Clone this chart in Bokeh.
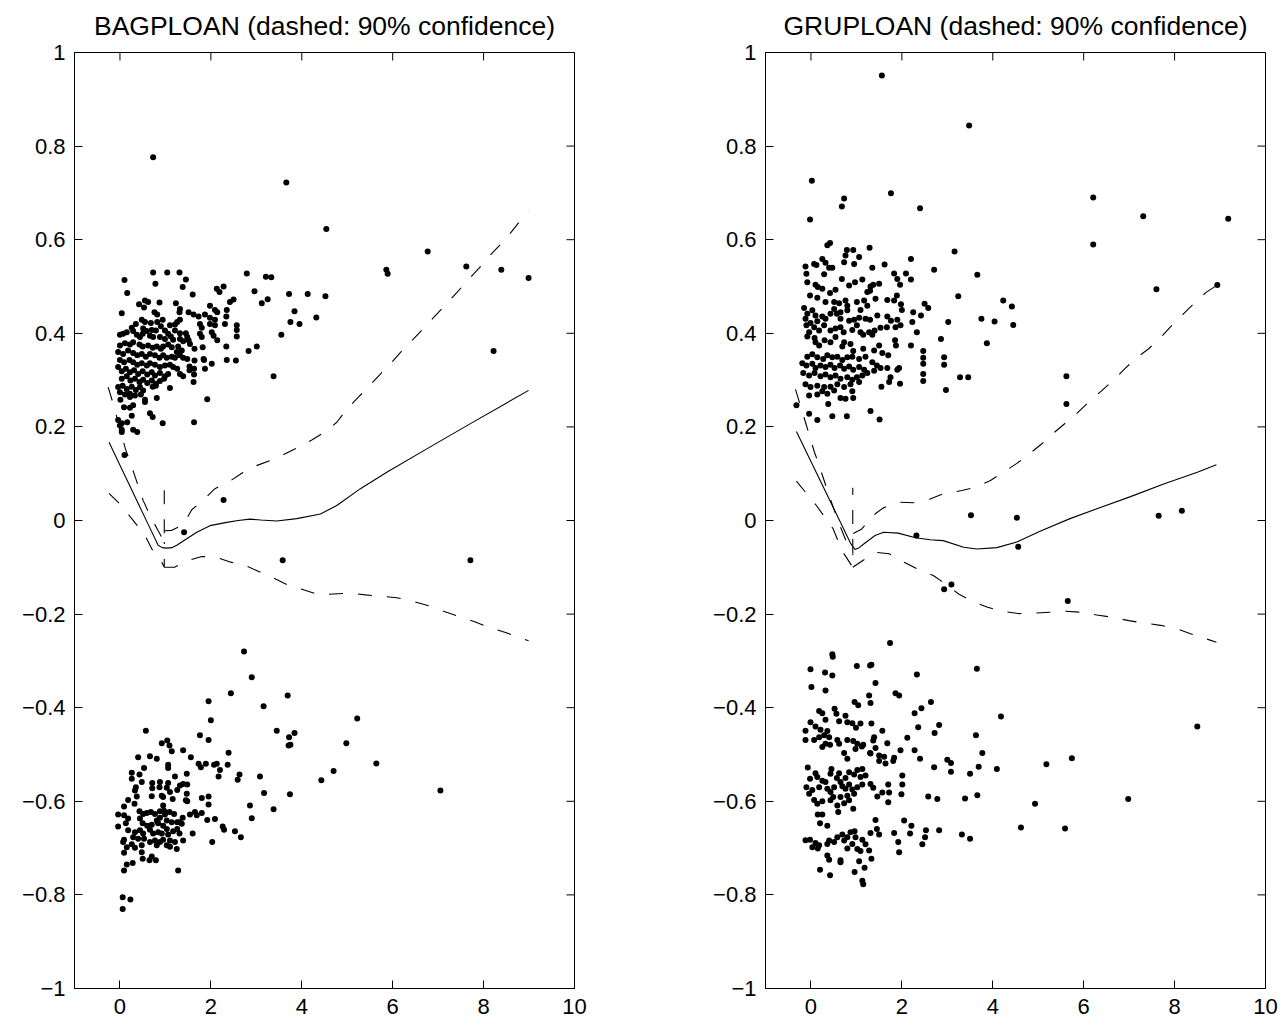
import math
import numpy as np
from bokeh.plotting import figure
from bokeh.models import FixedTicker
from bokeh.layouts import row
from bokeh.embed import file_html
from bokeh.resources import INLINE

NAN = float("nan")

titles = ["BAGPLOAN (dashed: 90% confidence)", "GRUPLOAN (dashed: 90% confidence)"]
xticks = [0, 2, 4, 6, 8, 10]
xtick_labels = ["0", "2", "4", "6", "8", "10"]
yticks = [-1, -0.8, -0.6, -0.4, -0.2, 0, 0.2, 0.4, 0.6, 0.8, 1]
ytick_labels = ["\u22121", "\u22120.8", "\u22120.6", "\u22120.4", "\u22120.2", "0",
                "0.2", "0.4", "0.6", "0.8", "1"]

# ---------------- BAGPLOAN ----------------
bag_upper_pts = [
    (0.73,0.53),(1.04,0.53),(1.31,0.53),(2.79,0.528),(3.21,0.521),(3.33,0.52),(0.10,0.514),(1.45,0.515),(0.78,0.506),
    (2.13,0.495),(2.19,0.488),(2.28,0.5),(1.38,0.499),(0.16,0.486),(1.6,0.483),(2.96,0.49),(3.72,0.484),(4.13,0.484),(4.52,0.479),
    (0.55,0.47),(0.62,0.467),(0.42,0.462),(0.87,0.466),(1.23,0.464),(2.5,0.472),(2.42,0.467),(3.25,0.473),(3.12,0.464),(0.53,0.455),
    (1.32,0.452),(1.31,0.445),(1.98,0.459),(2.09,0.45),(2.14,0.445),(2.35,0.45),(0.04,0.443),(0.76,0.445),(0.82,0.44),(1.51,0.445),
    (1.62,0.44),(1.73,0.436),(1.87,0.44),(1.98,0.433),(2.09,0.429),(2.34,0.436),(3.84,0.447),(4.32,0.434),
    (0.48,0.429),(0.55,0.424),(0.68,0.422),(0.94,0.429),(1.32,0.429),(1.26,0.424),(1.21,0.419),(0.35,0.42),(0.82,0.424),(0.9,0.415),
    (1.1,0.417),(1.76,0.42),(1.8,0.412),(1.98,0.42),(2.09,0.417),(2.31,0.42),(2.57,0.417),(2.57,0.407),(2.57,0.393),(3.75,0.424),(3.95,0.42),
    (0.26,0.412),(0.51,0.41),(0.59,0.405),(0.7,0.407),(0.79,0.406),(0.99,0.406),(1.06,0.399),(1.21,0.406),(1.32,0.4),(1.45,0.4),
    (1.48,0.392),(1.76,0.399),(2.02,0.402),(2.06,0.395),(0.0,0.397),(0.07,0.399),(0.15,0.402),(0.29,0.405),(0.37,0.397),(0.44,0.392),
    (0.5,0.399),(0.66,0.395),(0.73,0.392),(0.88,0.392),(0.99,0.388),(1.12,0.393),(1.17,0.386),(1.32,0.388),(1.39,0.383),(1.51,0.385),
    (1.54,0.377),(1.8,0.392),(2.14,0.385),(3.55,0.397),
    (0.0,0.374),(0.11,0.379),(0.22,0.376),(0.29,0.381),(0.43,0.376),(0.5,0.372),(0.62,0.374),(0.72,0.369),(0.81,0.372),(0.9,0.367),
    (0.95,0.372),(1.06,0.376),(1.14,0.37),(1.28,0.372),(1.36,0.363),(1.25,0.36),(1.64,0.367),(1.82,0.37),(2.34,0.372),(2.83,0.362),(3.01,0.372),
    (-0.04,0.36),(0.07,0.356),(0.18,0.363),(0.29,0.358),(0.38,0.353),(0.48,0.356),(0.57,0.35),(0.66,0.356),(0.77,0.353),(0.87,0.348),
    (0.95,0.353),(1.03,0.348),(1.14,0.35),(1.21,0.348),(1.32,0.353),(1.39,0.348),(1.48,0.345),(1.64,0.342),(1.84,0.345),(2.35,0.343),(2.55,0.342),
    (0.0,0.343),(0.09,0.338),(0.21,0.343),(0.29,0.338),(0.38,0.333),(0.48,0.336),(0.59,0.331),(0.66,0.336),(0.77,0.333),(0.88,0.328),
    (0.99,0.331),(1.1,0.333),(1.17,0.328),(1.26,0.324),(1.53,0.329),(1.63,0.324),(1.53,0.321),(1.87,0.324),(2.02,0.335),(1.85,0.343),
    (-0.04,0.328),(0.04,0.319),(0.13,0.324),(0.22,0.317),(0.31,0.321),(0.4,0.313),(0.5,0.319),(0.6,0.312),(0.7,0.317),(0.77,0.31),
    (0.88,0.315),(0.99,0.308),(1.06,0.313),(1.32,0.313),(1.39,0.308),(1.63,0.312),(3.38,0.308),
    (0.04,0.303),(0.15,0.308),(0.23,0.299),(0.33,0.303),(0.43,0.296),(0.51,0.301),(0.6,0.294),(0.7,0.299),(0.79,0.292),(0.88,0.298),
    (0.97,0.303),(1.62,0.296),
    (-0.04,0.285),(0.06,0.288),(0.15,0.281),(0.26,0.286),(0.35,0.279),(0.44,0.285),(0.51,0.278),(0.72,0.286),(0.79,0.288),(1.1,0.283),
    (0.0,0.274),(0.11,0.269),(0.22,0.271),(0.33,0.267),(0.46,0.269),(0.01,0.258),(0.22,0.264),(0.55,0.258),(0.81,0.262),(1.92,0.259),(0.55,0.253),
    (0.09,0.242),(0.22,0.241),(0.29,0.246),(0.66,0.229),(0.72,0.221),(0.26,0.224),(-0.04,0.215),(0.04,0.208),(0.16,0.21),(0.04,0.194),
    (0.29,0.194),(0.38,0.189),(0.94,0.208),(1.63,0.21),(0.0,0.203),(0.04,0.189),(0.1,0.14),
    (0.73,0.776),(3.66,0.722),(4.54,0.623),(6.77,0.575),(5.86,0.536),(5.89,0.527),(7.62,0.543),(8.39,0.536),(8.99,0.518),(8.22,0.362),
    (2.28,0.044),(1.41,-0.025),(3.58,-0.085),(7.71,-0.085),
]

bag_lower_pts = [
    (2.73,-0.28),(2.9,-0.335),(2.44,-0.369),(3.69,-0.374),(1.95,-0.386),(3.16,-0.397),(2.0,-0.427),(0.57,-0.449),(3.45,-0.449),
    (3.84,-0.454),(3.72,-0.463),(3.75,-0.479),(3.71,-0.481),(1.76,-0.459),(1.95,-0.469),
    (0.92,-0.476),(1.04,-0.47),(1.09,-0.481),(1.14,-0.493),(1.39,-0.491),(1.56,-0.506),(2.39,-0.496),(2.37,-0.522),(0.4,-0.506),
    (0.66,-0.504),(0.81,-0.509),(0.53,-0.529),(1.06,-0.522),(1.06,-0.529),
    (1.73,-0.52),(1.89,-0.52),(1.78,-0.527),(2.07,-0.522),(2.13,-0.52),(2.2,-0.533),(2.17,-0.547),(0.26,-0.539),(0.43,-0.543),
    (0.26,-0.552),(1.47,-0.541),(1.21,-0.547),(1.32,-0.566),(1.39,-0.563),(1.48,-0.564),(2.63,-0.543),(2.59,-0.554),(3.08,-0.547),
    (0.48,-0.559),(0.35,-0.57),(0.33,-0.577),(0.71,-0.561),(0.71,-0.572),(0.88,-0.559),(0.87,-0.57),(1.06,-0.561),(1.03,-0.571),
    (0.92,-0.588),(0.95,-0.591),
    (0.7,-0.589),(1.1,-0.58),(1.16,-0.595),(1.26,-0.576),(1.47,-0.584),(1.48,-0.6),(1.45,-0.598),(1.8,-0.593),(1.95,-0.59),(1.95,-0.607),
    (3.17,-0.582),(3.74,-0.585),
    (0.18,-0.597),(0.37,-0.59),(0.32,-0.605),(0.09,-0.611),(0.43,-0.621),(0.51,-0.627),(0.59,-0.625),(0.68,-0.623),(0.77,-0.627),
    (0.88,-0.621),(0.95,-0.609),(0.97,-0.62),(0.99,-0.628),
    (1.09,-0.623),(1.19,-0.627),(1.31,-0.645),(1.38,-0.635),(1.54,-0.628),(1.65,-0.623),(1.69,-0.63),(1.8,-0.625),(2.86,-0.609),
    (3.38,-0.617),(2.9,-0.636),
    (-0.04,-0.628),(0.09,-0.63),(0.18,-0.637),(-0.04,-0.654),(0.13,-0.647),(0.44,-0.637),(0.5,-0.647),(0.6,-0.652),(0.7,-0.65),
    (0.81,-0.641),(0.88,-0.635),
    (0.84,-0.647),(0.95,-0.652),(1.03,-0.641),(1.14,-0.645),(1.26,-0.645),(1.36,-0.648),(1.92,-0.64),(2.09,-0.638),(2.03,-0.687),
    (2.26,-0.654),(2.29,-0.661),(2.53,-0.664),(2.66,-0.677),
    (0.18,-0.662),(0.33,-0.666),(0.44,-0.662),(0.51,-0.669),(0.29,-0.677),(0.4,-0.68),(0.53,-0.68),
    (0.66,-0.661),(0.73,-0.669),(0.84,-0.666),(0.92,-0.669),(1.03,-0.659),(1.06,-0.671),(1.17,-0.664),(1.26,-0.659),(1.31,-0.669),
    (1.39,-0.684),(1.6,-0.669),
    (0.09,-0.682),(0.07,-0.687),(0.26,-0.692),(0.15,-0.698),(0.33,-0.699),(0.48,-0.694),(0.66,-0.687),(0.77,-0.684),(0.88,-0.687),
    (0.95,-0.682),(1.1,-0.684),(1.21,-0.687),(1.1,-0.697),(1.25,-0.702),(1.03,-0.694),(0.81,-0.694),
    (0.09,-0.71),(0.48,-0.709),(0.7,-0.718),(0.5,-0.723),(0.65,-0.726),(0.79,-0.726),(0.28,-0.732),(0.15,-0.735),(0.09,-0.748),(1.28,-0.748),
    (0.06,-0.805),(0.23,-0.81),(0.06,-0.83),
    (4.43,-0.555),(4.7,-0.535),(4.98,-0.476),(5.22,-0.423),(5.64,-0.519),(7.05,-0.577),
]

bag_fit_x = [-0.24, 0.0, 0.3, 0.6, 0.84, 0.93, 1.03, 1.14, 1.25, 1.47, 1.69, 1.98, 2.35, 2.6, 2.86, 3.1, 3.45,
             3.89, 4.41, 4.77, 5.29, 5.87, 6.75, 7.71, 8.99]
bag_fit_y = [0.167, 0.118, 0.057, -0.004, -0.053, -0.058, -0.059, -0.058, -0.053, -0.039, -0.025, -0.011, -0.004,
             0.0, 0.003, 0.001, -0.001, 0.004, 0.014, 0.032, 0.068, 0.103, 0.153, 0.207, 0.278]

bag_hi_x = [-0.26, -0.16, 0.12, 0.23, 0.35, 0.51, 0.66, 0.82, 0.975, 0.975, NAN,
            0.985, 1.14, 1.39, 1.58, 1.84, 2.09, 2.39, 2.68, 2.97, 3.3, 3.6, 3.93, 4.22, 4.54, 4.77,
            5.0, 5.25, 5.49, 5.73, 5.98, 6.2, 6.46, 6.7, 6.94, 7.18, 7.42, 7.65, 7.89, 8.11, 8.37, 8.59, 8.81, 8.99]
bag_hi_y = [0.285, 0.253, 0.153, 0.123, 0.089, 0.043, 0.011, -0.018, -0.046, 0.068, NAN,
            -0.022, -0.021, -0.009, 0.023, 0.044, 0.068, 0.082, 0.101, 0.116, 0.128, 0.141, 0.157, 0.172, 0.191, 0.21,
            0.239, 0.264, 0.288, 0.313, 0.338, 0.362, 0.388, 0.413, 0.438, 0.463, 0.488, 0.513, 0.538, 0.563, 0.59, 0.614, 0.641, 0.661]

bag_lo_x = [-0.24, -0.01, 0.22, 0.55, 0.72, 0.92, 0.975, 0.975, NAN,
            0.975, 1.2, 1.45, 1.8, 2.09, 2.44, 2.75, 3.08, 3.38, 3.71, 4.0, 4.39, 4.7, 5.07, 5.4, 5.78, 6.09,
            6.46, 6.79, 7.12, 7.45, 7.82, 8.11, 8.5, 8.99]
bag_lo_y = [0.058, 0.036, 0.009, -0.032, -0.064, -0.089, -0.1, -0.046, NAN,
            -0.1, -0.1, -0.087, -0.077, -0.078, -0.089, -0.096, -0.11, -0.123, -0.139, -0.147, -0.159, -0.157,
            -0.155, -0.159, -0.162, -0.165, -0.173, -0.182, -0.194, -0.205, -0.217, -0.228, -0.24, -0.257]

# ---------------- GRUPLOAN ----------------
gru_upper_pts = [
    (0.36,0.588),(0.42,0.593),(0.79,0.578),(0.93,0.578),(0.76,0.566),(1.06,0.563),(0.73,0.552),(0.95,0.548),(1.29,0.583),(2.2,0.559),
    (3.16,0.575),(3.66,0.525),
    (-0.12,0.543),(0.07,0.548),(0.12,0.546),(0.25,0.559),(0.32,0.551),(0.4,0.54),(0.47,0.54),(-0.1,0.527),(0.29,0.526),(1.35,0.54),
    (1.62,0.547),(1.83,0.528),(1.9,0.516),(2.09,0.528),(2.2,0.515),(2.71,0.536),
    (-0.08,0.509),(0.1,0.504),(0.15,0.499),(0.25,0.495),(0.42,0.486),(0.54,0.493),(0.68,0.516),(0.84,0.502),(0.97,0.509),(1.13,0.515),
    (1.31,0.5),(1.37,0.504),(1.5,0.506),(1.24,0.488),(1.3,0.491),
    (1.96,0.504),(1.89,0.481),(1.68,0.471),(1.83,0.47),(1.42,0.474),
    (-0.02,0.481),(0.14,0.476),(0.32,0.467),(0.51,0.467),(0.62,0.464),(0.76,0.47),(0.8,0.459),(1.01,0.467),(1.17,0.47),(1.24,0.459),
    (1.09,0.45),(0.8,0.449),(0.65,0.445),(0.51,0.452),
    (1.98,0.462),(2.0,0.45),(2.25,0.445),(2.42,0.438),(2.5,0.463),(2.58,0.454),(3.02,0.424),(3.24,0.479),(3.75,0.431),(4.04,0.425),
    (4.23,0.47),(4.42,0.457),(4.45,0.418),
    (-0.15,0.454),(-0.08,0.442),(0.03,0.449),(-0.12,0.431),(-0.01,0.422),(0.14,0.426),(0.1,0.438),(0.25,0.436),(0.32,0.431),(0.43,0.442),
    (0.57,0.442),(0.65,0.431),
    (0.84,0.427),(0.95,0.429),(1.06,0.433),(1.2,0.431),(1.3,0.429),(1.46,0.438),(1.68,0.436),(1.76,0.427),(1.9,0.429),(1.97,0.417),
    (1.86,0.413),(1.67,0.413),(1.53,0.412),(1.4,0.406),(1.28,0.402),
    (2.23,0.424),(2.33,0.402),(2.86,0.388),(2.2,0.374),(3.87,0.379),(-0.1,0.417),(0.07,0.413),(-0.04,0.402),(0.18,0.406),(-0.08,0.393),
    (0.08,0.39),(0.29,0.417),(0.43,0.406),(0.54,0.41),(0.65,0.413),(0.72,0.402),(0.91,0.407),(1.09,0.402),(1.15,0.397),(1.35,0.397),(1.01,0.417),
    (0.1,0.381),(0.18,0.374),(0.3,0.385),(0.43,0.381),(0.54,0.392),(0.73,0.381),(0.69,0.372),(0.87,0.377),(0.93,0.362),(1.15,0.367),
    (1.39,0.363),(1.5,0.374),(1.57,0.358),(1.7,0.353),(1.85,0.385),(1.87,0.374),
    (2.47,0.362),(2.47,0.348),(2.93,0.349),(2.93,0.333),(2.47,0.335),(2.47,0.313),(2.47,0.298),(2.97,0.279),(3.28,0.306),(3.46,0.306),
    (1.96,0.292),(1.72,0.296),(1.55,0.286),(1.75,0.306),(1.9,0.322),(1.94,0.326),
    (-0.08,0.35),(0.03,0.355),(0.14,0.349),(0.27,0.345),(0.36,0.353),(0.47,0.349),(0.58,0.35),(0.69,0.343),(0.8,0.349),(0.91,0.35),
    (1.06,0.345),(1.2,0.35),(1.35,0.338),(1.45,0.331),(1.53,0.326),(1.68,0.326),(1.39,0.32),
    (-0.19,0.336),(-0.1,0.331),(0.03,0.335),(0.1,0.326),(0.21,0.331),(0.32,0.328),(0.43,0.333),(0.52,0.326),(0.64,0.331),(0.73,0.324),
    (0.84,0.329),(0.93,0.322),(1.06,0.328),(1.17,0.322),(1.24,0.315),(1.13,0.31),
    (-0.17,0.315),(-0.04,0.31),(0.08,0.315),(0.21,0.308),(0.32,0.312),(0.43,0.306),(0.54,0.31),(0.65,0.303),(0.8,0.306),(0.91,0.301),
    (1.01,0.306),(1.06,0.296),(0.87,0.291),
    (-0.12,0.291),(-0.01,0.285),(0.14,0.288),(0.29,0.285),(0.43,0.286),(0.58,0.291),(0.73,0.285),(0.51,0.278),(0.25,0.276),(-0.04,0.267),
    (0.14,0.269),(0.36,0.271),
    (0.65,0.262),(0.76,0.26),(0.93,0.262),(0.38,0.249),(0.91,0.276),
    (-0.04,0.228),(0.14,0.215),(0.47,0.223),(0.79,0.223),(1.31,0.234),(1.51,0.216),(-0.32,0.246),
    (1.56,0.951),(3.48,0.844),(0.02,0.726),(1.76,0.699),(0.73,0.688),(0.68,0.671),(-0.02,0.643),(2.4,0.667),(6.21,0.69),(7.31,0.65),
    (9.18,0.645),(6.21,0.59),(5.62,0.308),(5.62,0.249),(7.6,0.494),(8.94,0.503),
    (2.32,-0.032),(3.52,0.011),(4.53,0.006),(4.56,-0.056),(7.65,0.01),(8.16,0.021),(2.93,-0.147),(3.09,-0.137),(5.65,-0.172),
]

gru_lower_pts = [
    (1.74,-0.262),(0.47,-0.286),(0.48,-0.291),(1.01,-0.311),(1.3,-0.31),(1.33,-0.308),(3.65,-0.317),(-0.01,-0.318),(0.31,-0.325),
    (0.47,-0.331),(2.33,-0.329),(1.42,-0.347),(0.01,-0.356),(0.32,-0.363),
    (1.28,-0.374),(1.31,-0.39),(1.86,-0.369),(1.94,-0.374),(2.64,-0.388),(2.43,-0.401),(2.28,-0.412),(0.96,-0.388),(1.04,-0.395),
    (0.18,-0.407),(0.25,-0.412),(0.32,-0.426),(0.52,-0.402),(0.56,-0.413),(0.76,-0.417),(0.62,-0.429),(0.8,-0.431),(0.91,-0.433),
    (0.99,-0.443),(1.09,-0.434),
    (1.33,-0.434),(1.57,-0.449),(1.39,-0.463),(1.37,-0.47),(1.68,-0.476),(1.42,-0.486),(2.82,-0.437),(2.72,-0.454),(2.36,-0.442),(2.12,-0.464),
    (-0.01,-0.431),(-0.12,-0.449),(0.1,-0.44),(0.21,-0.447),(0.36,-0.45),(0.29,-0.459),(0.4,-0.463),(-0.12,-0.469),(0.07,-0.469),
    (0.18,-0.463),(0.32,-0.477),(0.42,-0.479),(0.25,-0.484),
    (0.58,-0.469),(0.62,-0.477),(0.8,-0.469),(0.93,-0.471),(1.02,-0.477),(1.15,-0.479),(0.98,-0.488),(1.12,-0.483),(1.31,-0.498),
    (1.5,-0.502),(1.61,-0.505),(1.64,-0.519),(1.81,-0.514),(1.83,-0.507),(1.97,-0.491),
    (0.73,-0.497),(0.8,-0.509),(1.3,-0.497),(1.5,-0.514),(2.28,-0.491),(2.4,-0.509),(2.71,-0.527),(3.0,-0.511),(3.08,-0.537),(3.08,-0.518),
    (-0.07,-0.528),(0.1,-0.54),(-0.02,-0.552),(-0.1,-0.57),(0.03,-0.576),(-0.04,-0.584),(0.18,-0.57),(0.25,-0.556),(0.14,-0.548),(0.32,-0.559),
    (0.45,-0.531),(0.43,-0.541),(0.62,-0.54),(0.57,-0.55),(0.65,-0.559),(0.76,-0.55),(0.84,-0.538),(0.95,-0.543),(1.02,-0.533),
    (1.13,-0.531),(1.09,-0.548),(1.2,-0.545),
    (0.36,-0.573),(0.43,-0.58),(0.51,-0.57),(0.69,-0.568),(0.76,-0.573),(0.84,-0.564),(0.91,-0.575),(0.95,-0.584),(0.8,-0.588),
    (0.65,-0.591),(0.49,-0.591),(1.02,-0.57),(1.13,-0.564),(1.31,-0.563),(1.37,-0.571),
    (1.46,-0.59),(1.57,-0.581),(1.7,-0.564),(1.72,-0.581),(1.7,-0.602),(2.01,-0.545),(2.01,-0.564),(1.99,-0.585),(2.58,-0.59),(2.78,-0.595),
    (0.07,-0.597),(0.14,-0.605),(0.25,-0.6),(0.43,-0.598),(0.58,-0.609),(0.6,-0.623),(0.73,-0.604),(0.84,-0.598),(0.93,-0.616),
    (0.15,-0.628),(0.25,-0.628),(0.2,-0.647),(0.36,-0.652),
    (-0.12,-0.683),(-0.02,-0.682),(0.03,-0.698),(0.1,-0.689),(0.18,-0.694),(0.15,-0.701),(0.36,-0.691),(0.4,-0.684),(0.51,-0.687),
    (0.58,-0.677),(0.69,-0.671),(0.73,-0.684),(0.8,-0.677),(0.87,-0.666),(0.96,-0.664),(0.98,-0.677),(0.91,-0.691),(0.8,-0.701),
    (1.02,-0.702),(1.13,-0.682),(1.2,-0.692),(1.09,-0.706),(1.28,-0.705),(1.31,-0.668),(1.45,-0.659),(1.5,-0.671),(1.42,-0.64),
    (1.83,-0.668),(1.92,-0.687),(1.94,-0.709),(2.05,-0.641),(2.18,-0.669),(2.21,-0.652),(2.45,-0.692),(2.53,-0.662),(2.51,-0.677),(2.82,-0.662),
    (0.36,-0.716),(0.4,-0.725),(0.65,-0.73),(0.65,-0.726),(1.06,-0.728),(1.33,-0.723),(1.18,-0.742),(0.2,-0.746),(0.42,-0.758),
    (0.96,-0.751),(1.13,-0.77),(1.15,-0.777),
    (3.63,-0.459),(3.77,-0.497),(3.69,-0.526),(3.5,-0.541),(4.09,-0.531),(3.39,-0.594),(3.66,-0.587),(3.32,-0.671),(3.5,-0.68),
    (4.18,-0.419),(5.18,-0.521),(5.74,-0.508),(8.5,-0.44),(4.93,-0.605),(6.98,-0.595),(4.62,-0.656),(5.59,-0.658),
]

gru_fit_x = [-0.32, 0.0, 0.4, 0.8, 0.88, 0.97, 1.06, 1.19, 1.41, 1.6, 1.92, 2.3, 2.62, 2.91, 3.36, 3.65, 4.09,
             4.53, 5.04, 5.7, 6.29, 7.03, 7.76, 8.5, 8.92]
gru_fit_y = [0.19, 0.126, 0.046, -0.034, -0.05, -0.062, -0.058, -0.048, -0.032, -0.025, -0.027, -0.037, -0.041,
             -0.043, -0.057, -0.061, -0.058, -0.046, -0.023, 0.004, 0.025, 0.051, 0.078, 0.103, 0.119]

gru_hi_x = [-0.34, -0.12, 0.07, 0.18, 0.4, 0.62, 0.78, 0.92, 0.92, NAN,
            0.93, 1.12, 1.37, 1.59, 1.96, 2.25, 2.62, 2.91, 3.32, 3.58, 3.94, 4.2, 4.53, 4.79, 5.08, 5.34,
            5.62, 5.85, 6.13, 6.38, 6.66, 6.9, 7.17, 7.43, 7.7, 7.94, 8.2, 8.42, 8.7, 8.94]
gru_hi_y = [0.28, 0.21, 0.148, 0.118, 0.053, -0.007, -0.045, -0.07, 0.07, NAN,
            -0.028, -0.018, 0.011, 0.027, 0.039, 0.038, 0.046, 0.057, 0.064, 0.07, 0.085, 0.101, 0.122, 0.141,
            0.164, 0.187, 0.21, 0.229, 0.255, 0.276, 0.3, 0.324, 0.348, 0.367, 0.392, 0.417, 0.442, 0.463, 0.488, 0.503]

gru_lo_x = [-0.32, -0.1, 0.12, 0.29, 0.49, 0.68, 0.92, 0.92, NAN,
            0.92, 1.15, 1.42, 1.72, 2.05, 2.33, 2.7, 2.95, 3.25, 3.54, 3.87, 4.2, 4.57, 4.9, 5.26, 5.6, 5.96,
            6.29, 6.65, 6.99, 7.32, 7.69, 8.04, 8.35, 8.7, 8.92]
gru_lo_y = [0.084, 0.058, 0.032, 0.009, -0.018, -0.064, -0.1, -0.07, NAN,
            -0.1, -0.085, -0.068, -0.071, -0.089, -0.103, -0.118, -0.135, -0.157, -0.172, -0.185, -0.194, -0.199,
            -0.198, -0.196, -0.194, -0.196, -0.202, -0.207, -0.214, -0.219, -0.224, -0.231, -0.242, -0.253, -0.26]

FONT = "Liberation Sans"
X_RANGE = (-1, 10)
Y_RANGE = (-1, 1)


def make_panel(title, groups, fit, hi, lo, border_left, border_right):
    p = figure(frame_width=500, frame_height=936, x_range=X_RANGE, y_range=Y_RANGE,
               output_backend="svg", toolbar_location=None, title=title,
               min_border_left=border_left, min_border_right=border_right,
               min_border_top=52, min_border_bottom=34, background_fill_color="white",
               border_fill_color="white")
    p.outline_line_color = "black"
    p.outline_line_width = 1
    p.xgrid.visible = False
    p.ygrid.visible = False
    p.title.align = "center"
    p.title.vertical_align = "top"
    p.title.text_font = FONT
    p.title.text_font_style = "normal"
    p.title.text_font_size = "26.5px"
    p.title.text_color = "black"
    p.title.standoff = 20

    p.xaxis.ticker = FixedTicker(ticks=xticks)
    p.xaxis.major_label_overrides = dict(zip(xticks, xtick_labels))
    p.yaxis.ticker = FixedTicker(ticks=yticks)
    p.yaxis.major_label_overrides = dict(zip(yticks, ytick_labels))
    for ax in (p.xaxis[0], p.yaxis[0]):
        ax.major_tick_in = 8
        ax.major_tick_out = 0
        ax.minor_tick_in = 0
        ax.minor_tick_out = 0
        ax.axis_line_color = "black"
        ax.major_tick_line_color = "black"
        ax.major_label_text_font = FONT
        ax.major_label_text_font_size = "22px"
        ax.major_label_text_color = "black"
    p.xaxis.major_label_standoff = 10
    p.yaxis.major_label_standoff = 9

    # inward tick marks on the top and right edges of the box (screen-length rays)
    p.ray(x=xticks, y=[Y_RANGE[1]] * len(xticks), length=8, length_units="screen",
          angle=-math.pi / 2, line_color="black", line_width=1)
    p.ray(x=[X_RANGE[1]] * len(yticks), y=yticks, length=8, length_units="screen",
          angle=math.pi, line_color="black", line_width=1)

    for pts in groups:
        xs = [a for a, b in pts]
        ys = [b for a, b in pts]
        p.scatter(xs, ys, size=6, color="black", line_width=0)

    p.line(np.array(fit[0], dtype=float), np.array(fit[1], dtype=float), line_color="black", line_width=1.1)
    for xs, ys in (hi, lo):
        p.line(np.array(xs, dtype=float), np.array(ys, dtype=float), line_color="black",
               line_width=1.1, line_dash="14 15")
    return p


p1 = make_panel(titles[0], [bag_upper_pts, bag_lower_pts], (bag_fit_x, bag_fit_y),
                (bag_hi_x, bag_hi_y), (bag_lo_x, bag_lo_y), 74, 40)
p2 = make_panel(titles[1], [gru_upper_pts, gru_lower_pts], (gru_fit_x, gru_fit_y),
                (gru_hi_x, gru_hi_y), (gru_lo_x, gru_lo_y), 151, 21)

layout = row(p1, p2, spacing=0)
open("out.html", "w").write(file_html(layout, INLINE))
